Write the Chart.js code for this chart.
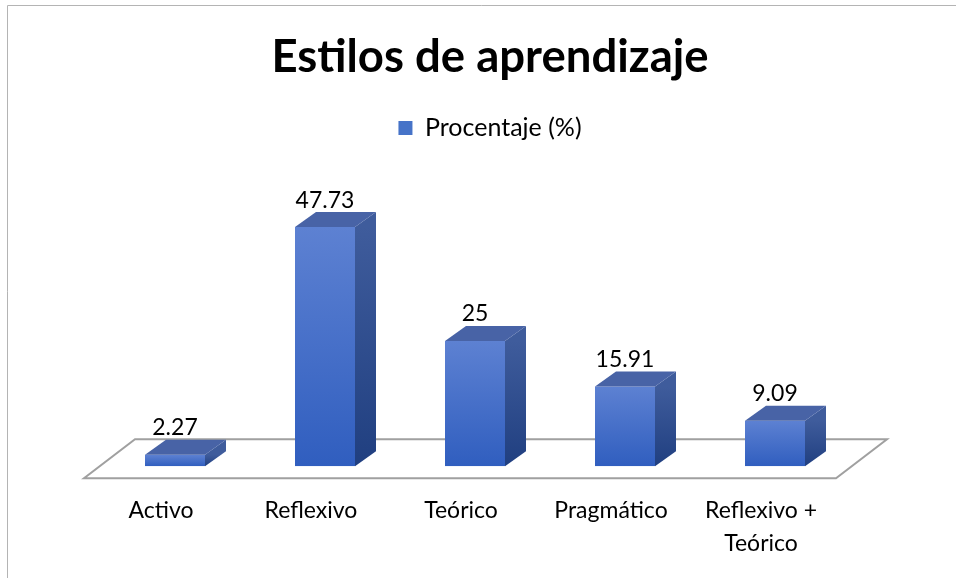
<!DOCTYPE html>
<html>
<head>
<meta charset="utf-8">
<script src="https://cdn.jsdelivr.net/npm/chart.js@4.4.1/dist/chart.umd.min.js"></script>
<style>
  html, body { margin: 0; padding: 0; background: #fff; }
  #wrap { width: 956px; height: 578px; }
</style>
</head>
<body>
<div id="wrap"><canvas id="grafico"></canvas></div>
<script>
// datos del grafico
const categorias = ['Activo', 'Reflexivo', 'Teórico', 'Pragmático', ['Reflexivo +', 'Teórico']];
const porcentajes = [2.27, 47.73, 25, 15.91, 9.09];
const etiquetasValor = ['2.27', '47.73', '25', '15.91', '9.09'];

const fuente = 'Lato, Carlito, sans-serif';
const prof = { dx: 21, dy: -15 };   // profundidad de la barra 3D

// piso + caras laterales y superiores
const efecto3d = {
    id: 'efecto3d',
    beforeDraw(chart) {
        const ctx = chart.ctx;
        ctx.save();
        ctx.strokeStyle = '#b4b4b4';
        ctx.lineWidth = 1;
        ctx.beginPath();
        ctx.moveTo(7.5, chart.height);
        ctx.lineTo(7.5, 5.5);
        ctx.lineTo(chart.width, 5.5);
        ctx.stroke();
        ctx.restore();
    },
    beforeDatasetsDraw(chart) {
        const ctx = chart.ctx;
        const a = chart.chartArea;
        const base = chart.scales.y.getPixelForValue(0);
        ctx.save();
        ctx.fillStyle = '#ffffff';
        ctx.strokeStyle = '#a0a0a0';
        ctx.lineWidth = 2;
        ctx.beginPath();
        ctx.moveTo(a.left - 16, base + 12);
        ctx.lineTo(a.right - 14, base + 12);
        ctx.lineTo(a.right + 37, base - 27);
        ctx.lineTo(a.left + 35, base - 27);
        ctx.closePath();
        ctx.fill();
        ctx.stroke();
        ctx.restore();
    },
    afterDatasetsDraw(chart) {
        const ctx = chart.ctx;
        const meta = chart.getDatasetMeta(0);
        ctx.save();
        meta.data.forEach((bar, i) => {
            const l = bar.x - bar.width / 2;
            const r = bar.x + bar.width / 2;
            const t = bar.y;
            const b = bar.base;
            // lado
            const gl = ctx.createLinearGradient(0, t, 0, b);
            gl.addColorStop(0, '#3f5c9c');
            gl.addColorStop(1, '#203f80');
            ctx.fillStyle = gl;
            ctx.beginPath();
            ctx.moveTo(r, t);
            ctx.lineTo(r + prof.dx, t + prof.dy);
            ctx.lineTo(r + prof.dx, b + prof.dy);
            ctx.lineTo(r, b);
            ctx.closePath();
            ctx.fill();
            // tapa
            ctx.fillStyle = '#4863a6';
            ctx.beginPath();
            ctx.moveTo(l, t);
            ctx.lineTo(l + prof.dx, t + prof.dy);
            ctx.lineTo(r + prof.dx, t + prof.dy);
            ctx.lineTo(r, t);
            ctx.closePath();
            ctx.fill();
            // valor
            ctx.fillStyle = '#000';
            ctx.font = '23px ' + fuente;
            ctx.textAlign = 'center';
            ctx.textBaseline = 'middle';
            ctx.fillText(etiquetasValor[i], bar.x, t - 27);
        });
        ctx.restore();
    }
};

function degradadoFrente(c) {
    const chart = c.chart;
    if (!chart.chartArea || c.raw === undefined) return '#4472c4';
    const y = chart.scales.y.getPixelForValue(c.raw);
    const base = chart.scales.y.getPixelForValue(0);
    const g = chart.ctx.createLinearGradient(0, y, 0, base);
    g.addColorStop(0, '#5d81d2');
    g.addColorStop(1, '#305ebf');
    return g;
}

const config = {
    type: 'bar',
    data: {
        labels: categorias,
        datasets: [{
            label: 'Procentaje (%)',
            data: porcentajes,
            backgroundColor: degradadoFrente,
            borderWidth: 0,
            barPercentage: 0.8,
            categoryPercentage: 0.5
        }]
    },
    plugins: [efecto3d],
    options: {
        responsive: false,
        animation: false,
        devicePixelRatio: 1,
        layout: { padding: { left: 100, right: 76, top: 0, bottom: -2 } },
        plugins: {
            title: {
                display: true,
                text: 'Estilos de aprendizaje',
                color: '#000',
                font: { family: fuente, size: 45.5, weight: 'bold', lineHeight: 1.2 },
                padding: { top: 30, bottom: 21 }
            },
            legend: {
                display: true,
                labels: {
                    color: '#000',
                    font: { family: fuente, size: 25 },
                    boxWidth: 14,
                    boxHeight: 14,
                    padding: 10,
                    generateLabels: (chart) => [{
                        text: 'Procentaje (%)',
                        fillStyle: '#4673c8',
                        strokeStyle: '#4673c8',
                        lineWidth: 0,
                        datasetIndex: 0
                    }]
                }
            },
            tooltip: { enabled: false }
        },
        scales: {
            x: {
                grid: { display: false },
                border: { display: false },
                ticks: {
                    color: '#000',
                    font: { family: fuente, size: 23, lineHeight: 1.43 },
                    padding: 20,
                    labelOffset: -14,
                    maxRotation: 0,
                    autoSkip: false
                }
            },
            y: {
                position: 'right',
                min: 0,
                max: 63,
                grid: { display: false },
                border: { display: false },
                ticks: { display: false },
                afterFit: (escala) => { escala.width = 30; }
            }
        }
    }
};

document.addEventListener('DOMContentLoaded', function() {
    const canvas = document.getElementById('grafico');
    canvas.width = 956;
    canvas.height = 578;
    new Chart(canvas.getContext('2d'), config);
});
</script>
</body>
</html>
